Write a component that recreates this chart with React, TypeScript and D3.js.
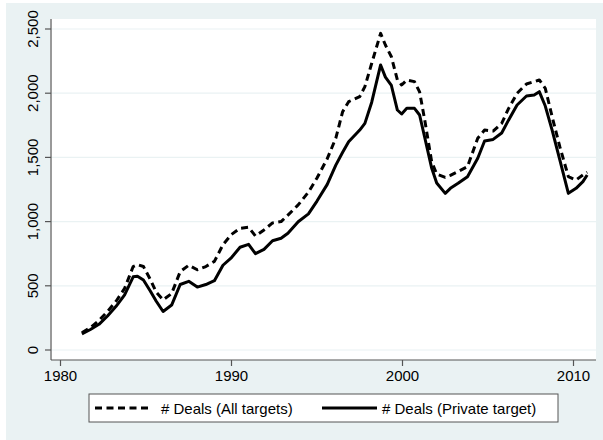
import React from "react";
import * as d3 from "d3";

const years = [
  1981.25, 1981.75, 1982.25, 1982.75, 1983.25, 1983.75, 1984.25, 1984.5, 1984.85, 1985.25,
  1985.6, 1986.0, 1986.5, 1987.0, 1987.5, 1988.0, 1988.5, 1989.0, 1989.5, 1990.0,
  1990.5, 1991.0, 1991.4, 1991.9, 1992.4, 1992.9, 1993.3, 1993.9, 1994.5, 1995.0,
  1995.6, 1996.1, 1996.5, 1996.85, 1997.5, 1997.8, 1998.2, 1998.72, 1999.0, 1999.35,
  1999.7, 1999.95, 2000.25, 2000.7, 2001.0, 2001.3, 2001.7, 2002.0, 2002.5, 2002.8,
  2003.25, 2003.8, 2004.4, 2004.8, 2005.3, 2005.8, 2006.2, 2006.7, 2007.25, 2007.7,
  2008.0, 2008.35, 2008.75, 2009.2, 2009.7, 2010.15, 2010.55, 2010.8,
];

const allTargets = [
  135, 175, 230, 300, 380, 480, 650, 665, 650, 550,
  450, 390, 440, 610, 660, 625, 650, 690, 820, 900,
  948, 956, 888, 935, 990, 1000, 1051, 1130, 1230, 1340,
  1490, 1650, 1856, 1934, 1973, 2051, 2233, 2466, 2375, 2284,
  2103, 2064, 2103, 2090, 2010, 1791, 1470, 1370, 1345, 1360,
  1390, 1428, 1649, 1713, 1705, 1765, 1880, 1999, 2072, 2090,
  2103, 2038, 1817, 1583, 1350, 1324, 1363, 1385,
];

const privateTarget = [
  125, 160, 200, 265, 340, 430, 570, 575, 545, 460,
  380, 300, 350, 510, 535, 490, 510, 540, 660, 720,
  800, 823, 750, 784, 851, 870, 909, 999, 1060, 1160,
  1290, 1440, 1540, 1622, 1713, 1765, 1930, 2220, 2125, 2060,
  1869, 1838, 1882, 1882, 1830, 1655, 1420, 1300, 1220, 1259,
  1298, 1350, 1493, 1628, 1640, 1690, 1790, 1908, 1978, 1986,
  2012, 1900, 1713, 1480, 1220, 1259, 1311, 1363,
];

const yTicks = [0, 500, 1000, 1500, 2000, 2500];
const xTicks = [1980, 1990, 2000, 2010];
const legendLabels = ["# Deals (All targets)", "# Deals (Private target)"];

export default function App() {
  const W = 603;
  const H = 440;
  const plot = { left: 50, right: 596, top: 19, bottom: 360 };
  const x = d3.scaleLinear().domain([1980, 2010]).range([60.5, 573.5]);
  const y = d3.scaleLinear().domain([0, 2500]).range([350, 29]);
  const fmt = d3.format(",");
  const font = "Liberation Sans, Arial, Helvetica, sans-serif";
  const axisColor = "#555";

  const line = (vals: number[]) =>
    d3
      .line<number>()
      .x((_, i) => x(years[i]))
      .y((v) => y(v))(vals) || "";

  return (
    <svg
      width={W}
      height={H}
      style={{ position: "absolute", left: 0, top: 0 }}
      fontFamily={font}
    >
      <rect x={0} y={0} width={W} height={H} fill="#fff" />
      <rect x={6} y={3} width={W - 6} height={H - 3} fill="#EAF2F3" />
      <rect
        x={plot.left}
        y={plot.top}
        width={plot.right - plot.left}
        height={plot.bottom - plot.top}
        fill="#fff"
      />
      {yTicks.map((t) => (
        <line
          key={"g" + t}
          x1={plot.left + 1}
          x2={plot.right}
          y1={y(t)}
          y2={y(t)}
          stroke="#EAF2F3"
          strokeWidth={1.2}
        />
      ))}
      {/* axes */}
      <line x1={51} x2={51} y1={plot.top} y2={plot.bottom} stroke={axisColor} strokeWidth={1.2} />
      <line x1={51} x2={plot.right} y1={plot.bottom} y2={plot.bottom} stroke={axisColor} strokeWidth={1.2} />
      {yTicks.map((t) => (
        <g key={"yt" + t}>
          <line x1={45} x2={51} y1={y(t)} y2={y(t)} stroke={axisColor} strokeWidth={1.2} />
          <text
            transform={`translate(38,${y(t)}) rotate(-90)`}
            textAnchor="middle"
            fontSize={15}
            fill="#000"
          >
            {fmt(t)}
          </text>
        </g>
      ))}
      {xTicks.map((t) => (
        <g key={"xt" + t}>
          <line x1={x(t)} x2={x(t)} y1={plot.bottom} y2={plot.bottom + 6} stroke={axisColor} strokeWidth={1.2} />
          <text x={x(t)} y={381} textAnchor="middle" fontSize={15} fill="#000">
            {t}
          </text>
        </g>
      ))}
      {/* series */}
      <path
        d={line(allTargets)}
        fill="none"
        stroke="#000"
        strokeWidth={3}
        strokeDasharray="7,4.5"
        strokeLinejoin="round"
      />
      <path
        d={line(privateTarget)}
        fill="none"
        stroke="#000"
        strokeWidth={3}
        strokeLinejoin="round"
      />
      {/* legend */}
      <rect x={89} y={394} width={469} height={28} fill="#fff" stroke={axisColor} strokeWidth={1} />
      <line x1={95} x2={152} y1={408} y2={408} stroke="#000" strokeWidth={3} strokeDasharray="7,4.5" />
      <text x={161} y={413.5} fontSize={15} fill="#000">
        {legendLabels[0]}
      </text>
      <line x1={322} x2={377} y1={408} y2={408} stroke="#000" strokeWidth={3} />
      <text x={382} y={413.5} fontSize={15} fill="#000">
        {legendLabels[1]}
      </text>
    </svg>
  );
}
